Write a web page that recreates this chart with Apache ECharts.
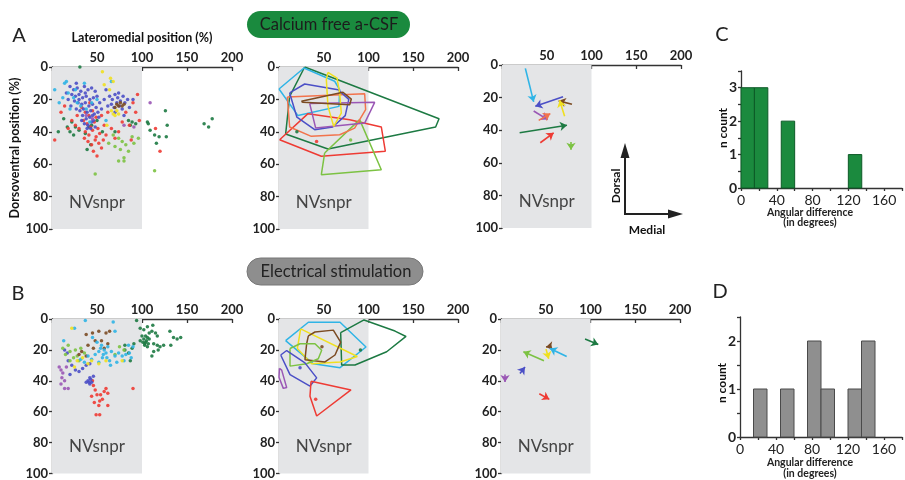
<!DOCTYPE html>
<html>
<head>
<meta charset="utf-8">
<script src="https://cdn.jsdelivr.net/npm/echarts@6/dist/echarts.min.js"></script>
<style>html,body{margin:0;padding:0;background:#fff}#main{width:905px;height:480px}</style>
</head>
<body>
<div id="main"></div>
<script>
var FONT = 'Lato, "Open Sans", sans-serif';
var COLORS = {
    blue: '#4b4fc6', red: '#ee3b34', orange: '#f2734c', cyan: '#2fb4e6', yellow: '#f0e020',
    dgreen: '#1d7a43', lgreen: '#7cc243', brown: '#7b4b23', purple: '#9a57b5'
};

// ---- A: calcium free a-CSF, single positions
var caBlue = [[20,12],[24,14],[28,13],[32,15],[36,12],[40,14],[44,13],[48,15],[22,17],[26,18],[30,17],[34,19],[38,18],[42,20],[46,19],[50,18],[18,20],[25,21],[29,22],[33,23],[37,22],[41,24],[45,23],[49,25],[53,22],[21,24],[27,26],[31,27],[35,26],[39,28],[43,27],[47,29],[51,28],[34,30],[38,32],[42,31],[46,33],[36,35],[40,36],[44,34],[48,37],[39,38],[45,30],[30,20],[55,26],[16,16],[58,20],[60,14],[52,31],[33,33],[64,18],[67,20],[70,17],[73,19],[76,21],[79,18],[66,23],[69,25],[72,22],[75,24],[78,26],[81,22],[84,20],[70,28],[74,16],[62,24],[80,30],[86,25],[90,20],[43,38],[37,16],[27,10]];
var caRed = [[33,25],[37,28],[41,30],[45,27],[49,31],[35,33],[39,35],[43,37],[47,34],[51,38],[37,40],[41,42],[45,39],[49,43],[53,41],[40,46],[44,48],[48,45],[52,47],[46,52],[50,55],[55,50],[58,36],[60,42],[30,38],[26,36],[22,33],[18,38],[14,24],[10,28],[28,30],[62,28],[66,38],[70,44],[74,40],[78,34],[82,28],[86,36],[90,22],[95,17],[93,28],[97,33],[3,45],[55,30],[42,22],[115,38],[120,52],[88,45],[36,44],[57,45]];
var caCyan = [[3,14],[14,10],[16,9],[8,22],[12,19],[18,16],[24,19],[28,22],[32,24],[38,26],[20,26],[26,14],[44,22],[36,10],[50,20],[60,33],[66,9],[42,34]];
var caYellow = [[56,3],[65,7],[68,9],[58,11],[72,27],[68,29],[70,30],[66,27],[61,36],[74,29],[64,14]];
var caDGreen = [[31,0],[13,32],[7,40],[22,34],[26,37],[30,39],[20,40],[24,42],[17,37],[37,41],[41,37],[44,36],[50,33],[85,33],[89,34],[93,35],[87,36],[70,40],[56,40],[43,48],[39,51],[106,34],[107,35],[109,39],[114,42],[119,43],[116,47],[126,27],[128,36],[127,43],[169,35],[174,37],[178,32]];
var caLGreen = [[68,42],[74,44],[78,46],[70,49],[82,48],[76,51],[85,52],[80,56],[74,58],[80,58],[91,47],[89,43],[96,44],[48,66],[114,64],[63,47]];
var caBrown = [[72,23],[74,24],[76,22],[78,24],[80,23],[70,25]];
var caPurple = [[109,22],[80,36],[91,37],[45,32],[38,30]];

// ---- A: outlines of each cell's field
var caHulls = {
    dgreen: [[28.7,0],[178.8,31.9],[175,37],[54.7,50.6],[7.4,41.4],[11.9,18.1]],
    cyan: [[0,13.6],[27.9,0.6],[62.2,8.8],[67.8,14],[67,24.3],[21.2,30]],
    red: [[0.7,44.9],[32.4,28.8],[79,32.5],[114.3,37],[118.8,52],[47.3,55.1]],
    lgreen: [[51,53.1],[90.1,32.5],[114.3,63.4],[47.3,66.5]],
    orange: [[9.3,18.5],[95.7,16.5],[96.8,26.3],[84.5,37.7],[67.8,41.8],[36.1,42.8],[11.9,37]],
    blue: [[11.9,16],[28.7,10.5],[66,14],[78,20],[74,30],[60,37],[39.9,38.7],[20,31]],
    purple: [[34.3,22.6],[106.9,21.8],[95.7,34.6],[41,37.7]],
    yellow: [[54.7,3.3],[64.8,6.8],[67.8,16],[69.6,28.4],[61.1,36.6],[54.7,24.3],[52.9,7.8]],
    brown: [[25,21.2],[71.5,15.6],[80.8,19.8],[79,23.3],[26.8,21.8]]
};
var caDots = [[20,40],[42,46],[80,45]];
var caDotGroups = ['dgreen', 'red', 'lgreen'];

// ---- A: displacement vectors (from, to)
var caVecFrom = [[26.1,2.1],[68.2,19.5],[78.2,24.1],[70,31.5],[35.4,28.2],[41,34],[19.7,41.6],[42.8,47.7],[77.1,47.3]];
var caVecTo = [[35.4,22.6],[37.2,25.3],[63.3,22],[64.4,21.6],[51,33.5],[54,29.8],[72.6,37],[57.7,41.6],[77.1,52]];
var caVecGroups = ['cyan','blue','brown','yellow','purple','orange','dgreen','red','lgreen'];

// ---- B: electrical stimulation, single positions
var esDGreen = [[94,1],[98,6],[106,5],[112,4],[111,8],[108,9],[115,9],[117,11],[106,12],[102,13],[98,14],[100,11],[104,15],[107,16],[103,17],[106,18],[113,16],[117,17],[120,18],[124,17],[118,20],[113,21],[111,24],[131,8],[135,12],[139,13],[143,12],[132,17],[91,16],[89,19],[85,22],[87,27],[102,7],[108,13],[104,11],[81,17],[81,20],[105,14],[103,16],[101,15]];
var esCyan = [[37,1],[68,2],[25,6],[13,14],[45,12],[50,15],[55,17],[58,20],[60,22],[52,21],[48,23],[56,25],[62,18],[66,21],[70,24],[74,22],[78,24],[82,23],[86,22],[88,25],[80,27],[72,28],[64,27],[44,26],[40,24],[36,28],[32,26],[54,19],[57,23],[61,25],[85,17],[70,8],[90,18],[65,30],[52,28]];
var esBrown = [[38,10],[45,9],[52,8],[60,9],[48,14],[55,14],[62,16],[40,17],[46,19],[33,21],[38,24],[30,23],[58,19],[64,8]];
var esLGreen = [[18,17],[12,19],[15,23],[20,21],[24,25],[28,24],[32,19],[26,20],[36,22],[20,27],[30,27],[80,20],[75,18],[70,23]];
var esYellow = [[22,6],[28,27],[34,25],[40,29],[44,27],[60,27],[78,27],[52,29],[25,31]];
var esBlue = [[14,20],[18,27],[22,30],[26,33],[20,36],[30,34],[34,32],[38,30],[42,29],[40,40],[42,42],[43,39],[41,41],[44,41],[42,38],[38,41],[46,37],[17,22]];
var esPurple = [[10,33],[12,35],[11,38],[14,40],[10,42],[18,45],[14,45],[8,31],[16,31]];
var esRed = [[45,40],[46,43],[48,46],[50,49],[54,49],[44,50],[56,52],[47,54],[52,56],[58,47],[62,48],[60,45],[49,62],[53,62],[90,45],[62,56],[53,53]];

var esHulls = {
    cyan: [[7.4,14],[32.8,2.1],[68.2,2.1],[97.2,18.1],[68.2,31.5],[38.4,29]],
    dgreen: [[68.9,8.8],[95,0.6],[129.6,7.8],[141.9,11.3],[120.3,21.2],[84.9,29.8],[70,29.8]],
    yellow: [[24.2,6.4],[87.5,24.3],[68.2,27.8],[36.5,29],[20.5,19.1]],
    brown: [[32.8,10.9],[40.2,8.4],[60.7,7.2],[68.9,15],[62.6,23.3],[51.4,27.8],[29,26.3],[30.9,16]],
    lgreen: [[12.3,19.1],[23.5,16],[40.2,16],[47.7,20.2],[43.9,25.7],[30.9,29],[12.3,30.5]],
    blue: [[1.9,23.3],[8.6,20.4],[29,28.4],[42.1,38.1],[34.6,43.4],[12.3,36]],
    purple: [[0.5,31.9],[3,33.1],[8.6,44.4],[4.8,44.9],[0,37.7]],
    red: [[35.8,40.3],[80.4,45.9],[42.1,62.8],[34.6,50]]
};
var esDots = [[48,18],[23.5,31.5],[41,52],[91,20]];
var esDotGroups = ['brown', 'blue', 'red', 'dgreen'];

var esVecFrom = [[93.9,13],[56.6,17.5],[73.4,24.3],[50.3,19.5],[48,27],[21.2,35.2],[4.5,36],[42.8,48.4]];
var esVecTo = [[108.7,16.5],[50.3,18.1],[54.7,19.1],[53.3,25.7],[25,21.2],[26.8,31.1],[4.5,40.7],[54,52]];
var esVecGroups = ['dgreen','brown','cyan','yellow','lgreen','blue','purple','red'];

// ---- C, D: angular difference histograms (bin start, count), 15 degree bins
var binWidth = 15;
var caBins = [0, 15, 45, 120];
var caCounts = [3, 3, 2, 1];
var esBins = [15, 45, 75, 90, 120, 135];
var esCounts = [1, 1, 2, 1, 1, 2];

var nvRange = [0, 100];
var posXTicks = [0, 200, 50];
var posYTicks = [0, 100, 20];

var myChart = echarts.init(document.getElementById('main'));

var scatterGrids = [
    {left: 52, top: 67, width: 180, height: 162},
    {left: 279, top: 67, width: 179, height: 162},
    {left: 502, top: 65, width: 179, height: 163},
    {left: 52, top: 319, width: 180, height: 162},
    {left: 279, top: 319, width: 179, height: 162},
    {left: 501, top: 319, width: 179, height: 162}
];
var histGrids = [
    {left: 741, top: 71, width: 173, height: 117},
    {left: 740, top: 317, width: 173, height: 120}
];

var axisLineStyle = {color: '#333', width: 1.3};
var tickLabel = {color: '#222', fontFamily: FONT, fontWeight: 'bold', fontSize: 13};

var xAxes = [], yAxes = [], series = [];

scatterGrids.forEach(function (g, i) {
    xAxes.push({
        gridIndex: i, type: 'value', position: 'top',
        min: posXTicks[0], max: posXTicks[1], interval: posXTicks[2],
        axisLine: {show: true, onZero: false, lineStyle: axisLineStyle},
        axisTick: {show: true, inside: true, length: 4, lineStyle: axisLineStyle},
        axisLabel: Object.assign({margin: 3, formatter: function (v) { return v === 0 ? '' : v; }}, tickLabel),
        splitLine: {show: false}
    });
    yAxes.push({
        gridIndex: i, type: 'value', inverse: true,
        min: posYTicks[0], max: posYTicks[1], interval: posYTicks[2],
        axisLine: {show: true, onZero: false, lineStyle: axisLineStyle},
        axisTick: {show: true, length: 3, lineStyle: axisLineStyle},
        axisLabel: Object.assign({margin: 4}, tickLabel),
        splitLine: {show: false}
    });
    // NVsnpr shaded region
    series.push({
        type: 'scatter', xAxisIndex: i, yAxisIndex: i, data: [], silent: true, z: 1,
        markArea: {
            silent: true,
            itemStyle: {color: '#e4e5e7'},
            label: {show: true, position: 'insideBottom', distance: 18, color: '#444', fontSize: 17, fontFamily: FONT},
            data: [[{name: 'NVsnpr', xAxis: nvRange[0], yAxis: posYTicks[0]}, {xAxis: nvRange[1], yAxis: posYTicks[1]}]]
        }
    });
});

// axis names only on first panel
xAxes[0].name = 'Lateromedial position (%)';
xAxes[0].nameLocation = 'middle';
xAxes[0].nameGap = 23;
xAxes[0].nameTextStyle = {color: '#111', fontFamily: FONT, fontWeight: 'bold', fontSize: 12.5};
yAxes[0].name = 'Dorsoventral position (%)';
yAxes[0].nameLocation = 'middle';
yAxes[0].nameGap = 29;
yAxes[0].nameTextStyle = {color: '#111', fontFamily: FONT, fontWeight: 'bold', fontSize: 12.5};

function addPoints(gi, pts, group) {
    series.push({
        type: 'scatter', xAxisIndex: gi, yAxisIndex: gi, data: pts, z: 3,
        symbol: 'circle', symbolSize: 3.5, itemStyle: {color: COLORS[group], opacity: 0.9}
    });
}
function addHulls(gi, hulls) {
    Object.keys(hulls).forEach(function (k) {
        var pts = hulls[k];
        series.push({
            type: 'line', xAxisIndex: gi, yAxisIndex: gi, data: pts.concat([pts[0]]), z: 3,
            symbol: 'none', lineStyle: {color: COLORS[k], width: 1.5}
        });
    });
}
function addVectors(gi, from, to, groups) {
    series.push({
        type: 'lines', coordinateSystem: 'cartesian2d', xAxisIndex: gi, yAxisIndex: gi, z: 3,
        symbol: ['none', 'arrow'], symbolSize: 7,
        lineStyle: {opacity: 1, width: 1.6},
        data: from.map(function (f, j) {
            return {coords: [f, to[j]], lineStyle: {color: COLORS[groups[j]], width: 1.6, opacity: 1}};
        })
    });
}

addPoints(0, caDGreen, 'dgreen');
addPoints(0, caLGreen, 'lgreen');
addPoints(0, caRed, 'red');
addPoints(0, caBlue, 'blue');
addPoints(0, caCyan, 'cyan');
addPoints(0, caYellow, 'yellow');
addPoints(0, caBrown, 'brown');
addPoints(0, caPurple, 'purple');
addHulls(1, caHulls);
caDots.forEach(function (d, j) { addPoints(1, [d], caDotGroups[j]); });
addVectors(2, caVecFrom, caVecTo, caVecGroups);

addPoints(3, esDGreen, 'dgreen');
addPoints(3, esRed, 'red');
addPoints(3, esPurple, 'purple');
addPoints(3, esBlue, 'blue');
addPoints(3, esLGreen, 'lgreen');
addPoints(3, esBrown, 'brown');
addPoints(3, esCyan, 'cyan');
addPoints(3, esYellow, 'yellow');
addHulls(4, esHulls);
esDots.forEach(function (d, j) { addPoints(4, [d], esDotGroups[j]); });
addVectors(5, esVecFrom, esVecTo, esVecGroups);

// histograms
[[caBins, caCounts, 3.5, '#1b8a3e', '#0d5a27'], [esBins, esCounts, 2.5, '#8f8f8f', '#4a4a4a']].forEach(function (h, k) {
    var gi = 6 + k;
    xAxes.push({
        gridIndex: gi, type: 'value', min: 0, max: 180, interval: 20,
        axisLine: {show: true, onZero: false, lineStyle: axisLineStyle},
        axisTick: {show: true, length: 3, lineStyle: axisLineStyle},
        axisLabel: {color: '#222', fontFamily: FONT, fontSize: 14, margin: 5,
            formatter: function (v) { return v % 40 === 0 ? v : ''; }},
        splitLine: {show: false}
    });
    yAxes.push({
        gridIndex: gi, type: 'value', min: 0, max: h[2], interval: 0.5,
        axisLine: {show: true, onZero: false, lineStyle: axisLineStyle},
        axisTick: {show: true, length: 3, lineStyle: axisLineStyle},
        axisLabel: {color: '#222', fontFamily: FONT, fontWeight: 'bold', fontSize: 14, margin: 4,
            formatter: function (v) { return Number.isInteger(v) ? v : ''; }},
        splitLine: {show: false}
    });
    series.push({
        type: 'custom', xAxisIndex: gi, yAxisIndex: gi, z: 3,
        data: h[0].map(function (b, j) { return [b, binWidth, h[1][j]]; }),
        encode: {x: [0], y: [2]},
        renderItem: function (params, api) {
            var p0 = api.coord([api.value(0), api.value(2)]);
            var p1 = api.coord([api.value(0) + api.value(1), 0]);
            return {type: 'rect', shape: {x: p0[0], y: p0[1], width: p1[0] - p0[0], height: p1[1] - p0[1]},
                style: {fill: h[3], stroke: h[4], lineWidth: 1}};
        }
    });
});

var bold12 = {fontFamily: FONT, fontWeight: 'bold', fontSize: 12, fill: '#111'};
function txt(x, y, text, style, rot) {
    return {type: 'text', x: x, y: y, rotation: rot || 0,
        style: Object.assign({text: text, align: 'center', verticalAlign: 'middle'}, style)};
}

var graphics = [
    // pills
    {type: 'rect', shape: {x: 247, y: 11, width: 163, height: 27, r: 13.5}, style: {fill: '#1a8a3e'}},
    txt(329, 24.5, 'Calcium free a-CSF', {fontFamily: FONT, fontSize: 16.5, fill: '#1c1c1c'}),
    {type: 'rect', shape: {x: 247, y: 258, width: 176, height: 27, r: 13.5}, style: {fill: '#8e8e8e', stroke: '#777', lineWidth: 1}},
    txt(336, 271.5, 'Electrical stimulation', {fontFamily: FONT, fontSize: 16.5, fill: '#222'}),
    // panel letters
    txt(19, 36, 'A', {fontFamily: FONT, fontSize: 20, fill: '#222'}),
    txt(18, 294, 'B', {fontFamily: FONT, fontSize: 20, fill: '#222'}),
    txt(722, 35, 'C', {fontFamily: FONT, fontSize: 20, fill: '#222'}),
    txt(720, 292, 'D', {fontFamily: FONT, fontSize: 20, fill: '#222'}),
    // orientation arrows
    {type: 'polyline', shape: {points: [[625, 152], [625, 214], [675, 214]]}, style: {stroke: '#222', lineWidth: 2, fill: null}},
    {type: 'polygon', shape: {points: [[625, 143], [620.5, 158], [629.5, 158]]}, style: {fill: '#222'}},
    {type: 'polygon', shape: {points: [[683, 214], [668, 209.5], [668, 218.5]]}, style: {fill: '#222'}},
    txt(616, 186, 'Dorsal', bold12, Math.PI / 2),
    txt(647, 230, 'Medial', bold12),
    // histogram axis names
    txt(723, 128, 'n count', bold12, Math.PI / 2),
    txt(810, 213, 'Angular difference', {fontFamily: FONT, fontWeight: 'bold', fontSize: 10.5, fill: '#222'}),
    txt(810, 223, '(in degrees)', {fontFamily: FONT, fontWeight: 'bold', fontSize: 10.5, fill: '#222'}),
    txt(722, 383, 'n count', bold12, Math.PI / 2),
    txt(810, 463, 'Angular difference', {fontFamily: FONT, fontWeight: 'bold', fontSize: 10.5, fill: '#222'}),
    txt(810, 474, '(in degrees)', {fontFamily: FONT, fontWeight: 'bold', fontSize: 10.5, fill: '#222'})
];

var option = {
    animation: false,
    backgroundColor: '#ffffff',
    textStyle: {fontFamily: FONT},
    grid: scatterGrids.concat(histGrids),
    xAxis: xAxes,
    yAxis: yAxes,
    series: series,
    graphic: graphics
};

myChart.setOption(option);
</script>
</body>
</html>
